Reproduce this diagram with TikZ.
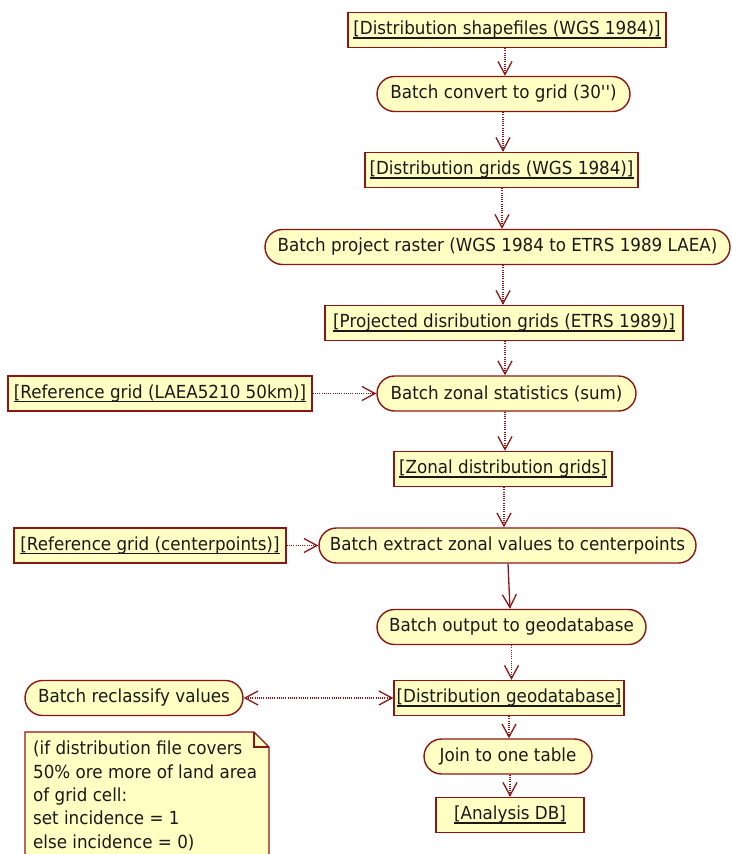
\documentclass[tikz,border=0pt]{standalone}
\usepackage{fontspec}
\setmainfont{DejaVu Sans}[FakeStretch=0.93,Ligatures=TeXOff]
\usetikzlibrary{arrows.meta}
\definecolor{bord}{RGB}{140,22,22}
\definecolor{fillc}{RGB}{255,255,196}
\definecolor{txt}{RGB}{25,25,25}
\newsavebox{\ulbox}
\newcommand\ulx[1]{\sbox{\ulbox}{#1}\rlap{\rule[-3.8pt]{\wd\ulbox}{1.6pt}}\usebox{\ulbox}}
\begin{document}
\begin{tikzpicture}[x=1pt,y=-1pt,
  font=\fontsize{18}{23.3}\selectfont,
  obj/.style={draw=bord, fill=fillc, line width=1.4pt, minimum height=35pt, inner sep=0pt, text=txt},
  act/.style={obj, rounded corners=17.5pt},
  tipv/.tip={Straight Barb[length=13pt,width=14pt,line width=1.3pt]},
  flow/.style={draw=bord, line width=1.1pt, dash pattern=on 1pt off 1.2pt, -{tipv}},
  flowsolid/.style={draw=bord, line width=1.3pt, -{tipv}},
  flowboth/.style={draw=bord, line width=1.1pt, dash pattern=on 1pt off 1.2pt, {tipv}-{tipv}},
]
\useasboundingbox (0,0) rectangle (731,854);

\node[obj, minimum width=318pt] (shp)  at (507,30)    {\ulx{[Distribution shapefiles (WGS 1984)]}};
\node[act, minimum width=253pt] (conv) at (503.5,94)  {Batch convert to grid (30'')};
\node[obj, minimum width=273pt] (dg)   at (501.5,170) {\ulx{[Distribution grids (WGS 1984)]}};
\node[act, minimum width=465pt] (proj) at (497.5,247) {Batch project raster (WGS 1984 to ETRS 1989 LAEA)};
\node[obj, minimum width=358pt] (pgrid) at (504,323)  {\ulx{[Projected disribution grids (ETRS 1989)]}};
\node[obj, minimum width=304pt] (ref1) at (160,393.5) {\ulx{[Reference grid (LAEA5210 50km)]}};
\node[act, minimum width=259pt] (zon)  at (506.5,393.5) {Batch zonal statistics (sum)};
\node[obj, minimum width=218pt] (zgrid) at (503,469)  {\ulx{[Zonal distribution grids]}};
\node[obj, minimum width=272pt] (ref2) at (150,545.5) {\ulx{[Reference grid (centerpoints)]}};
\node[act, minimum width=377pt] (ext)  at (507.5,545.5) {Batch extract zonal values to centerpoints};
\node[act, minimum width=269pt] (out)  at (511.5,627) {Batch output to geodatabase};
\node[act, minimum width=218pt] (recl) at (134,698)   {Batch reclassify values};
\node[obj, minimum width=230pt] (gdb)  at (509,698)   {\ulx{[Distribution geodatabase]}};
\node[act, minimum width=168pt] (join) at (508,756.5) {Join to one table};
\node[obj, minimum width=148pt] (adb)  at (510,815)   {\ulx{[Analysis DB]}};

% note
\draw[draw=bord, fill=fillc, line width=1.4pt] (25,732) -- (254,732) -- (269,747) -- (269,870) -- (25,870) -- cycle;
\draw[draw=bord, line width=1.4pt] (254,732) -- (254,747) -- (269,747);
\node[anchor=north west, align=left, inner sep=0pt, text=txt] (note) at (33,741)
  {(if distribution file covers\\50\% ore more of land area\\of grid cell:\\set incidence = 1\\else incidence = 0)};

\draw[flow] ([xshift=-2pt]shp.south) -- ([xshift=-2pt]shp.south |- conv.north);
\draw[flow] ([xshift=-0.5pt]conv.south) -- ([xshift=-0.5pt]conv.south |- dg.north);
\draw[flow] ([xshift=0.5pt]dg.south) -- ([xshift=0.5pt]dg.south |- proj.north);
\draw[flow] ([xshift=-1pt]pgrid.north |- proj.south) -- ([xshift=-1pt]pgrid.north);
\draw[flow] ([xshift=1pt]pgrid.south) -- ([xshift=1pt]pgrid.south |- zon.north);
\draw[flow] (ref1) -- (zon);
\draw[flow] ([xshift=-1.5pt]zon.south) -- ([xshift=-1.5pt]zon.south |- zgrid.north);
\draw[flow] ([xshift=1pt]zgrid.south) -- ([xshift=1pt]zgrid.south |- ext.north);
\draw[flow] (ref2) -- (ext);
\draw[flowsolid] ([xshift=0.5pt]ext.south) -- ([xshift=2.5pt]ext.south |- out.north);
\draw[flow] (out.south) -- (out.south |- gdb.north);
\draw[flowboth] (recl) -- (gdb);
\draw[flow] (gdb.south) -- (gdb.south |- join.north);
\draw[flow] ([xshift=2pt]join.south) -- ([xshift=2pt]join.south |- adb.north);
\end{tikzpicture}
\end{document}
